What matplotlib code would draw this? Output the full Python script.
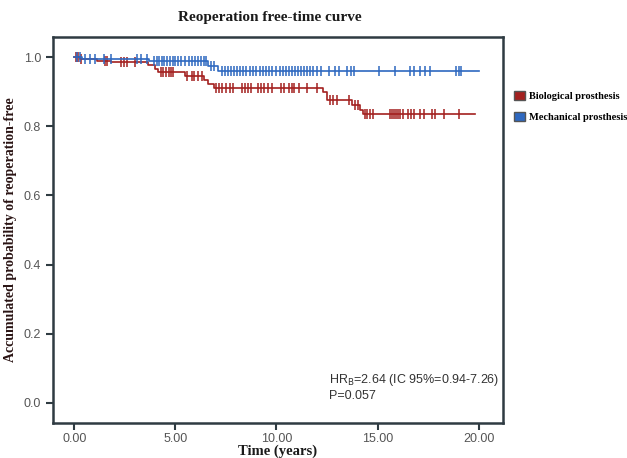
import matplotlib
matplotlib.use("Agg")
import matplotlib.pyplot as plt
from matplotlib.patches import Patch
import numpy as np

# Kaplan-Meier steps (years, survival after the drop)
BIO_EVENTS = [0.3, 1.15, 1.8, 3.65, 4.0, 4.15, 5.5, 6.4, 6.6, 6.9,
              12.3, 12.5, 13.75, 14.15, 14.3]
BIO_SURV = [0.995, 0.99, 0.985, 0.977, 0.966, 0.956, 0.945, 0.933, 0.922, 0.911,
            0.898, 0.877, 0.86, 0.848, 0.835]
BIO_END = 19.8
BIO_CENSOR = [0.1, 0.2, 0.35, 1.5, 1.6, 2.3, 2.45, 2.6, 3.0, 4.3, 4.4, 4.55, 4.7,
              4.8, 4.9, 5.6, 5.8, 5.9, 6.1, 6.3, 7.0, 7.15, 7.3, 7.5, 7.7, 7.85,
              8.3, 8.45, 8.6, 8.75, 9.1, 9.25, 9.4, 9.6, 9.8, 10.2, 10.35, 10.6,
              10.75, 10.85, 11.1, 11.5, 12.0, 12.65, 12.8, 13.0, 13.6, 13.9, 14.05,
              14.4, 14.5, 14.6, 14.75, 15.6, 15.7, 15.8, 15.9, 16.0, 16.1, 16.25,
              16.5, 16.65, 16.8, 17.1, 17.3, 17.7, 17.85, 18.3, 19.0]

MEC_EVENTS = [0.4, 3.7, 6.6, 7.1]
MEC_SURV = [0.995, 0.988, 0.975, 0.960]
MEC_END = 20.0
MEC_CENSOR = [0.15, 0.3, 0.55, 0.8, 1.05, 1.45, 1.8, 3.1, 3.3, 3.6, 3.95, 4.1, 4.2,
              4.35, 4.45, 4.6, 4.75, 4.9, 5.0, 5.15, 5.3, 5.5, 5.65, 5.8, 5.95,
              6.1, 6.25, 6.4, 6.5, 6.75, 6.9, 7.3, 7.45, 7.6, 7.75, 7.9, 8.05,
              8.2, 8.35, 8.5, 8.7, 8.85, 9.0, 9.2, 9.35, 9.5, 9.65, 9.8, 10.0,
              10.15, 10.3, 10.45, 10.6, 10.75, 10.9, 11.05, 11.2, 11.35, 11.5,
              11.65, 11.8, 12.0, 12.2, 12.6, 12.9, 13.1, 13.5, 13.7, 13.85, 15.05,
              15.85, 16.6, 16.8, 17.1, 17.35, 17.6, 18.9, 19.0, 19.1]

X_TICKS = [0, 5, 10, 15, 20]
Y_TICKS = [0.0, 0.2, 0.4, 0.6, 0.8, 1.0]

RED = "#a3201f"
BLUE = "#2e68c0"
SPINE = "#2f3b42"
SERIF = "Liberation Serif"
SANS = "Liberation Sans"


def step_xy(events, surv, end):
    xs = [0.0]
    ys = [1.0]
    for t, s in zip(events, surv):
        xs.append(t)
        ys.append(s)
    xs.append(end)
    ys.append(surv[-1])
    return xs, ys


def surv_at(events, surv, t):
    idx = np.searchsorted(events, t, side="right")
    return 1.0 if idx == 0 else surv[idx - 1]


fig = plt.figure(figsize=(6.27, 4.58), dpi=100)
ax = fig.add_axes([53 / 627, 1 - 423 / 458, 450 / 627, 386 / 458])

for events, surv, end, cens, color in [
    (BIO_EVENTS, BIO_SURV, BIO_END, BIO_CENSOR, RED),
    (MEC_EVENTS, MEC_SURV, MEC_END, MEC_CENSOR, BLUE),
]:
    xs, ys = step_xy(events, surv, end)
    ax.step(xs, ys, where="post", color=color, linewidth=1.2)
    cy = [surv_at(events, surv, t) for t in cens]
    ax.plot(cens, cy, linestyle="none", marker="|", markersize=7.5,
            markeredgewidth=1.1, color=color)

ax.set_xlim(-1.05, 21.2)
ax.set_ylim(-0.058, 1.058)
ax.set_xticks(X_TICKS)
ax.set_xticklabels([f"{v:.2f}" for v in X_TICKS])
ax.set_yticks(Y_TICKS)
ax.set_yticklabels([f"{v:.1f}" for v in Y_TICKS])

for sp in ax.spines.values():
    sp.set_color(SPINE)
    sp.set_linewidth(1.8)
ax.tick_params(direction="out", length=5, width=1.5, color=SPINE,
               labelsize=9, labelcolor="#555555")
ax.tick_params(axis="x", pad=2)
for lab in ax.get_xticklabels() + ax.get_yticklabels():
    lab.set_family(SANS)

ax.set_xlabel("Time (years)", family=SERIF, fontweight="bold", fontsize=10.5,
              color="#1a1a1a", labelpad=-0.5)
ax.set_ylabel("Accumulated probability of reoperation-free", family=SERIF,
              fontweight="bold", fontsize=10, color="#2a1414", labelpad=5)
fig.text(270 / 627, 1 - 18 / 458, "Reoperation free-time curve", family=SERIF,
         fontweight="bold", fontsize=11, ha="center", va="center",
         color="#1a1a1a")

ax.text(12.6, 0.012, "HR$_{\\mathrm{B}}$=2.64 (IC 95%=0.94-7.26)\nP=0.057",
        family=SANS, fontsize=9, color="#333333", linespacing=1.2)

handles = [Patch(facecolor=RED, edgecolor="#555555", label="Biological prosthesis"),
           Patch(facecolor=BLUE, edgecolor="#555555", label="Mechanical prosthesis")]
fig.legend(handles=handles, loc="upper left",
           bbox_to_anchor=(510 / 627, 1 - 87 / 458), frameon=False,
           handlelength=1.0, handleheight=1.0, handletextpad=0.4,
           labelspacing=1.0, borderaxespad=0,
           prop={"family": SERIF, "weight": "bold", "size": 7.5})

fig.savefig("out.png", dpi=100)
